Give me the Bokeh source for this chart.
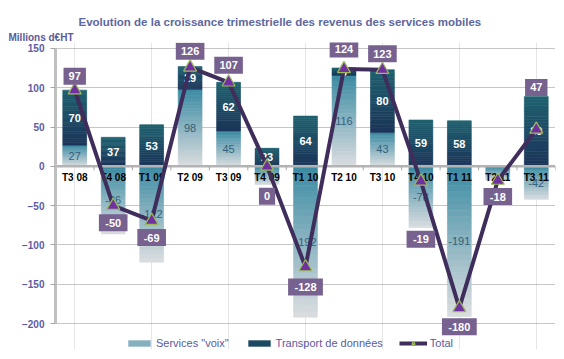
import numpy as np
from bokeh.plotting import figure
from bokeh.models import ColumnDataSource, FixedTicker, Legend, LegendItem, Title
from bokeh.core.properties import value
from bokeh.embed import file_html
from bokeh.resources import INLINE

# ---- data ----
categories = ["T3 08", "T4 08", "T1 09", "T2 09", "T3 09", "T4 09", "T1 10",
              "T2 10", "T3 10", "T4 10", "T1 11", "T2 11", "T3 11"]
voix = [27, -86, -122, 98, 45, -23, -192, 116, 43, -78, -191, -18, -42]
donnees = [70, 37, 53, 29, 62, 23, 64, 9, 80, 59, 58, 0, 89]
total = [97, -50, -69, 126, 107, 0, -128, 124, 123, -19, -180, -18, 47]
y_ticks = [-200, -150, -100, -50, 0, 50, 100, 150]

# label placement (screen pixels, positive = down) -- styling only
total_label_shift = [-14, 17, 17, -16, -17, 30, 20, -20, -16, 58, 19, 16, -42]

FONT = "Liberation Sans"
n = len(categories)
xs = np.arange(n)
Y0, Y1 = -233, 157.6
FRAME_H = 307
px_per_unit = FRAME_H / (Y1 - Y0)

# stacking like a spreadsheet: positives and negatives stack separately
v = np.array(voix, dtype=float)
d = np.array(donnees, dtype=float)
v_bot = np.zeros(n)
v_top = v
d_bot = np.where(d >= 0, np.maximum(v, 0), np.minimum(v, 0))
d_top = d_bot + d


def hex2rgb(h):
    h = h.lstrip("#")
    return np.array([int(h[i:i + 2], 16) for i in (0, 2, 4)], dtype=float)


def slices(bots, tops, c_top, c_bot, steps=24):
    ct, cb = hex2rgb(c_top), hex2rgb(c_bot)
    X, B, T, C = [], [], [], []
    for i in range(n):
        lo, hi = min(bots[i], tops[i]), max(bots[i], tops[i])
        if hi - lo <= 0:
            continue
        for k in range(steps):
            y0 = lo + (hi - lo) * k / steps
            y1 = lo + (hi - lo) * (k + 1) / steps
            w = 1 - (k + 0.5) / steps  # weight of bottom colour
            c = ct * (1 - w) + cb * w
            X.append(float(xs[i])); B.append(y0); T.append(y1)
            C.append("#%02x%02x%02x" % tuple(int(round(q)) for q in c))
    return ColumnDataSource(dict(x=X, bottom=B, top=T, color=C))


p = figure(width=556, height=351, output_backend="svg", toolbar_location=None,
           x_range=(-0.5, n - 0.5), y_range=(Y0, Y1), x_axis_location=None,
           min_border_left=55, min_border_right=1,
           min_border_top=42, min_border_bottom=2)
p.outline_line_color = None
p.background_fill_color = "white"

p.title.text = "Evolution de la croissance trimestrielle des revenus des services mobiles"
p.title.align = "left"
p.title.offset = 23
p.title.text_font = FONT
p.title.text_font_size = "11.5px"
p.title.text_font_style = "bold"
p.title.text_color = "#5d67a0"
p.title.standoff = 4

unit_title = Title(text="Millions d€HT", align="left", offset=-47, text_font=FONT,
                   text_font_size="10px", text_font_style="bold", text_color="#5a5a9a",
                   standoff=0)
p.add_layout(unit_title, "above")

# y axis
p.yaxis.ticker = FixedTicker(ticks=y_ticks)
p.yaxis.bounds = (-200, 150)
p.yaxis.axis_line_color = "#c0c0c0"
p.yaxis.axis_line_width = 3
p.yaxis.major_tick_out = 5
p.yaxis.major_tick_in = 0
p.yaxis.major_tick_line_color = "#a6a6a6"
p.yaxis.minor_tick_line_color = None
p.yaxis.major_label_text_font = FONT
p.yaxis.major_label_text_font_size = "10px"
p.yaxis.major_label_text_font_style = "bold"
p.yaxis.major_label_text_color = "#5c5ca3"
p.yaxis.major_label_standoff = 6
p.ygrid.ticker = FixedTicker(ticks=y_ticks)
p.ygrid.grid_line_color = "#8c8c8c"
p.ygrid.grid_line_dash = "1 1"
p.ygrid.grid_line_width = 1

bw = 0.62
sv = slices(v_bot, v_top, "#3a8aa2", "#dcdee0")
sd = slices(d_bot, d_top, "#1f616f", "#1b3459")
p.vbar(x="x", bottom="bottom", top="top", width=bw, source=sv,
       fill_color="color", line_color="color", line_width=0.6)
p.vbar(x="x", bottom="bottom", top="top", width=bw, source=sd,
       fill_color="color", line_color="color", line_width=0.6)

# zero axis line and category boundary ticks
bnd = np.arange(n + 1) - 0.5
p.segment(x0=[bnd[0]], y0=[0], x1=[bnd[-1]], y1=[0], line_color="#b3b3b3", line_width=2.5)
p.segment(x0=bnd, y0=np.zeros(n + 1), x1=bnd, y1=np.full(n + 1, -5.0),
          line_color="#a6a6a6", line_width=1)

# category labels at y = 0
p.text(x=xs, y=np.zeros(n), text=categories, y_offset=11,
       text_font=value(FONT), text_font_size="10px", text_font_style="bold",
       text_color="black", text_align="center", text_baseline="middle")

# voix labels
vmask = np.abs(v) >= 25
p.text(x=xs[vmask], y=(v / 2)[vmask], text=[str(int(q)) for q in v[vmask]],
       text_font=value(FONT), text_font_size="11px", text_color="#35607a",
       text_align="center", text_baseline="middle")
# data labels
dmask = np.abs(d) >= 5
p.text(x=xs[dmask], y=((d_bot + d_top) / 2)[dmask], text=[str(int(q)) for q in d[dmask]],
       text_font=value(FONT), text_font_size="11px", text_font_style="bold",
       text_color="white", text_align="center", text_baseline="middle")

# total line + markers
line_r = p.line(xs, total, line_color="#3f2d5c", line_width=4)
mark_r = p.scatter(xs, total, marker="triangle", size=13, fill_color="#7030a0",
                   line_color="#9bbb59", line_width=1.2)

tot = np.array(total, dtype=float)
lab_y = tot - np.array(total_label_shift) / px_per_unit
lab_w = [10 + 6.2 * len(str(q)) for q in total]
p.rect(x=xs, y=lab_y, width=lab_w, height=17, width_units="screen", height_units="screen",
       fill_color="#76618f", line_color=None)
p.text(x=xs, y=lab_y, text=[str(q) for q in total],
       text_font=value(FONT), text_font_size="11px", text_font_style="bold",
       text_color="white", text_align="center", text_baseline="middle")

# legend
lv = p.vbar(x=[0], top=[0], width=0, fill_color="#86b0bf", line_color=None)
ld = p.vbar(x=[0], top=[0], width=0, fill_color="#1c4a63", line_color=None)
legend = Legend(items=[LegendItem(label='Services "voix"', renderers=[lv]),
                       LegendItem(label="Transport de données", renderers=[ld]),
                       LegendItem(label="Total", renderers=[line_r, mark_r])],
                orientation="horizontal", location=(70, 0),
                label_text_font=FONT, label_text_font_size="11px",
                label_text_color="#5a5aa0", glyph_width=28, glyph_height=8,
                label_standoff=3, spacing=16, padding=3, margin=0,
                border_line_color=None, background_fill_alpha=0)
p.add_layout(legend)

open("out.html", "w").write(file_html(p, INLINE))
